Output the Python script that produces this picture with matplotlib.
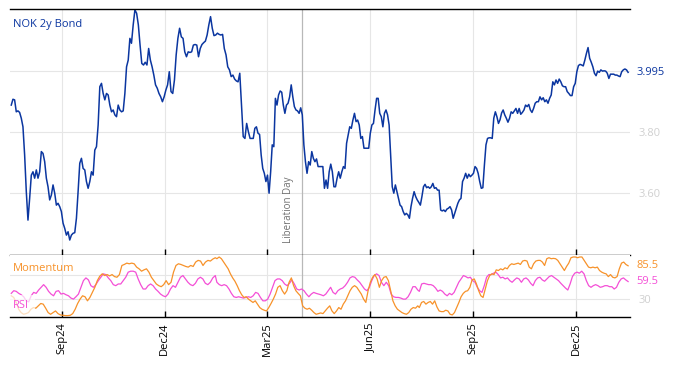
import numpy as np
import pandas as pd
import matplotlib
matplotlib.use("Agg")
import matplotlib.pyplot as plt

plt.rcParams['font.family'] = ['Open Sans', 'DejaVu Sans']

# ---------------- data ----------------
start_date, end_date = "2024-07-18", "2026-01-15"
event_date, event_label = "2025-04-02", "Liberation Day"
title = "NOK 2y Bond"
tick_months = ["2024-09", "2024-12", "2025-03", "2025-06", "2025-09", "2025-12"]
tick_labels = ["Sep24", "Dec24", "Mar25", "Jun25", "Sep25", "Dec25"]

# main series, in segments (segment start date, end date, values)
bond_seg1 = ("2024-07-18", "2024-10-31", [
    3.888, 3.907, 3.905, 3.866, 3.869, 3.864, 3.845, 3.817, 3.725, 3.605, 3.512, 3.583,
    3.659, 3.670, 3.649, 3.676, 3.649, 3.670, 3.736, 3.730, 3.703, 3.649, 3.621, 3.578,
    3.594, 3.627, 3.600, 3.561, 3.567, 3.556, 3.540, 3.502, 3.485, 3.463, 3.474, 3.447,
    3.463, 3.469, 3.471, 3.518, 3.605, 3.698, 3.714, 3.681, 3.676, 3.638, 3.616, 3.638,
    3.670, 3.659, 3.741, 3.752, 3.823, 3.948, 3.959, 3.926, 3.905, 3.926, 3.921, 3.888,
    3.866, 3.872, 3.856, 3.850, 3.888, 3.872, 3.866, 3.869, 3.926, 4.013, 4.035, 4.106])
bond_seg2 = ("2024-11-01", "2025-02-14", [
    4.090, 4.150, 4.199, 4.188, 4.150, 4.084, 4.024, 4.019, 4.028, 4.019, 4.073, 4.035,
    4.013, 3.986, 3.954, 3.943, 3.926, 3.915, 3.899, 3.915, 3.937, 3.954, 3.997, 3.932,
    3.926, 3.970, 4.052, 4.106, 4.139, 4.111, 4.106, 4.062, 4.046, 4.062, 4.060, 4.062,
    4.084, 4.086, 4.084, 4.046, 4.073, 4.086, 4.092, 4.097, 4.117, 4.150, 4.177, 4.139,
    4.115, 4.117, 4.123, 4.119, 4.117, 4.119, 4.073, 4.052, 4.013, 4.003, 3.981, 3.986,
    3.973, 3.967, 3.964, 3.992, 3.888, 3.785, 3.779, 3.828, 3.801, 3.779])
bond_seg3 = ("2025-02-17", "2025-06-05", [
    3.779, 3.779, 3.812, 3.817, 3.796, 3.792, 3.725, 3.681, 3.665, 3.638, 3.659, 3.600,
    3.670, 3.758, 3.752, 3.910, 3.888, 3.921, 3.934, 3.930, 3.888, 3.861, 3.888, 3.894,
    3.915, 3.954, 3.915, 3.883, 3.872, 3.869, 3.861, 3.879, 3.856, 3.758, 3.703, 3.665,
    3.703, 3.692, 3.736, 3.714, 3.703, 3.712, 3.687, 3.687, 3.687, 3.687, 3.616, 3.643,
    3.616, 3.670, 3.695, 3.670, 3.621, 3.621, 3.649, 3.670, 3.649, 3.670, 3.687, 3.681,
    3.763, 3.790, 3.817, 3.812, 3.839, 3.861, 3.834, 3.839, 3.823, 3.779, 3.785, 3.747,
    3.747, 3.747, 3.747, 3.796, 3.823, 3.828, 3.872])
bond_seg4 = ("2025-06-06", "2025-09-26", [
    3.910, 3.910, 3.861, 3.850, 3.817, 3.861, 3.872, 3.856, 3.823, 3.725, 3.621, 3.600,
    3.627, 3.605, 3.583, 3.561, 3.556, 3.540, 3.529, 3.534, 3.529, 3.518, 3.556, 3.583,
    3.605, 3.589, 3.578, 3.570, 3.561, 3.589, 3.621, 3.629, 3.618, 3.621, 3.616, 3.621,
    3.632, 3.616, 3.618, 3.610, 3.610, 3.545, 3.542, 3.545, 3.540, 3.548, 3.551, 3.556,
    3.545, 3.518, 3.534, 3.551, 3.567, 3.578, 3.583, 3.638, 3.649, 3.665, 3.649, 3.662,
    3.654, 3.659, 3.665, 3.687, 3.681, 3.665, 3.638, 3.616, 3.618, 3.692, 3.758, 3.779,
    3.781, 3.781, 3.779, 3.845, 3.866, 3.850, 3.828, 3.840, 3.862, 3.872])
bond_seg5 = ("2025-09-29", "2026-01-15", [
    3.856, 3.845, 3.832, 3.845, 3.866, 3.861, 3.869, 3.877, 3.861, 3.877, 3.858, 3.864,
    3.872, 3.888, 3.883, 3.890, 3.872, 3.864, 3.877, 3.894, 3.899, 3.899, 3.915, 3.905,
    3.912, 3.899, 3.905, 3.894, 3.910, 3.921, 3.964, 3.954, 3.970, 3.959, 3.973, 3.964,
    3.951, 3.948, 3.948, 3.932, 3.926, 3.919, 3.919, 3.948, 3.959, 3.997, 4.017, 4.021,
    4.019, 4.016, 4.035, 4.057, 4.076, 4.041, 4.028, 4.013, 3.992, 3.984, 3.999, 3.995,
    4.003, 3.999, 4.000, 3.999, 3.992, 3.975, 3.989, 3.989, 3.989, 3.986, 3.986, 3.983,
    3.981, 3.997, 4.003, 4.006, 4.003, 3.995])

mom_seg1 = ("2024-07-18", "2025-01-15", [
    36, 33.3, 25, 13.8, 8.3, 5.5, 6.6, 8.3, 13.8, 16.6, 15.5, 19.4, 23.3, 22.2, 15.5, 8.3,
    5.5, 8.3, 11, 6.6, 4.4, 3.8, 3.3, 3.3, 3.8, 6.6, 13.8, 23.3, 30.5, 36, 34.4, 27.7,
    33.3, 41.6, 50, 61, 68.3, 72.2, 69.4, 71, 68.8, 71, 67.7, 66.6, 71, 86, 87.7, 89.9,
    88.8, 89.9, 88.8, 83.3, 80.5, 76.6, 78.8, 80.5, 75, 66.6, 61, 55.5, 52.7, 51, 54.4,
    61, 54.4, 58.3, 75, 86, 88.8, 87.7, 86, 84.4, 83.3, 86, 84.4, 91.6, 94.4, 93.3, 86,
    91.6, 94.4, 93.3, 96.6, 98.8])
mom_seg2 = ("2025-01-16", "2025-07-14", [
    97.2, 100, 97.2, 91.6, 86, 80.5, 72.2, 65.5, 60, 52.7, 44.4, 37.7, 33.3, 34.4, 30.5,
    27.7, 25, 27.7, 22.2, 16.6, 13.8, 12.2, 11, 16.6, 23.3, 30.5, 38.8, 50, 52.7, 44.4,
    38.8, 44.4, 58.3, 65.5, 52.7, 44.4, 40, 36, 19.4, 15.5, 13.8, 15.5, 12.2, 8.3, 5.5,
    6.6, 7.7, 6.6, 11, 15.5, 19.4, 11, 6.6, 11, 16.6, 13.8, 22.2, 27.7, 36, 44.4, 50,
    52.7, 50, 44.4, 38.8, 30.5, 25, 44.4, 58.3, 66.6, 71, 63.8, 50, 61, 66.6, 67.7, 61,
    44.4, 27.7, 19.4, 13.8, 11, 8.3, 6.6, 5.5, 8.3, 13.8, 16.6, 15.5, 19.4])
mom_seg3 = ("2025-07-15", "2026-01-15", [
    16.6, 25, 26.6, 22.2, 25, 26.6, 22.2, 27.7, 17.7, 11, 9.9, 9.9, 12.2, 11, 5.5, 4.4,
    8.3, 16.6, 25, 34.4, 40, 43.3, 44.4, 50, 62.2, 63.8, 55.5, 44.4, 36, 33.3, 47.2, 61,
    69.4, 72.2, 71, 78.8, 77.7, 80.5, 78.8, 82.2, 80.5, 86, 88.8, 87.7, 88.8, 89.9, 87.7,
    93.3, 94.4, 93.3, 83.3, 80.5, 88.8, 93.3, 94.4, 94.4, 91.6, 86, 97.2, 98.8, 97.2,
    97.7, 97.2, 94.4, 88.8, 83.3, 77.7, 84.4, 89.9, 98.8, 100, 100, 98.8, 100, 100, 94.4,
    88.8, 83.3, 82.2, 83.3, 82.2, 83.3, 77.7, 75, 73.3, 72.2, 67.7, 71, 66.6, 65.5, 67.7,
    80.5, 89.9, 91.6, 87.7, 85.5])

rsi_seg1 = ("2024-07-18", "2025-01-15", [
    40, 44.4, 43.3, 40, 37.7, 34.4, 27.7, 26, 36, 41.6, 40, 45.5, 50, 54.4, 50, 43.3,
    38.8, 36, 43.3, 44.4, 38.8, 40, 37.7, 36, 32.2, 30.5, 34.4, 38.8, 50, 61, 65.5, 62.2,
    52.7, 50, 54.4, 61, 66.6, 72.2, 71, 65.5, 61, 54.4, 52.7, 55.5, 55.5, 61, 66.6, 75,
    76.6, 76.6, 75, 63.8, 54.4, 47.2, 47.2, 52.7, 55.5, 52.7, 47.2, 43.3, 38.8, 36, 34.4,
    38.8, 47.2, 52.7, 50, 58.3, 66.6, 69.4, 63.8, 58.3, 54.4, 52.7, 56.6, 63.8, 66.6,
    63.8, 56.6, 54.4, 58.3, 65.5, 69.4])
rsi_seg2 = ("2025-01-16", "2025-07-14", [
    58.3, 54.4, 52.7, 54.4, 52.7, 47.2, 40, 34.4, 33.3, 34.4, 33.3, 32.2, 33.3, 34.4,
    33.3, 36, 41.6, 40, 33.3, 27.7, 27.7, 30.5, 38.8, 50, 61, 63.8, 63.8, 61, 55.5, 52.7,
    56.6, 62.2, 55.5, 47.2, 45.5, 47.2, 44.4, 38.8, 34.4, 38.8, 41.6, 40, 38.8, 37.7, 36,
    38.8, 44.4, 50, 41.6, 38.8, 44.4, 47.2, 48.8, 52.7, 58.3, 65.5, 67.7, 66.6, 62.2,
    58.3, 52.7, 47.2, 44.4, 50, 61, 69.4, 72.2, 69.4, 58.3, 52.7, 58.3, 52.7, 38.8, 34.4,
    33.3, 33.3, 32.2, 30.5, 30.5, 34.4, 41.6, 51, 51, 45.5])
rsi_seg3 = ("2025-07-15", "2026-01-15", [
    43.3, 55.5, 56.6, 55.5, 54.4, 54.4, 52.7, 48.8, 43.3, 45.5, 43.3, 38.8, 36, 40, 37.7,
    41.6, 50, 58.3, 63.8, 69.4, 67.7, 65.5, 66.6, 61, 58.3, 50, 44.4, 41.6, 52.7, 66.6,
    71, 71, 73.3, 75, 71, 65.5, 66.6, 63.8, 65.5, 61, 58.3, 62.2, 65.5, 63.8, 58.3, 63.8,
    65.5, 62.2, 56.6, 52.7, 61, 65.5, 66.6, 62.2, 60, 63.8, 67.7, 69.4, 66.6, 63.8, 61,
    56.6, 52.7, 48.8, 45.5, 55.5, 67.7, 73.3, 75, 73.3, 76.6, 72.2, 61, 52.7, 50, 52.7,
    54.4, 52.7, 50, 51, 52.7, 52.7, 51, 51, 47.2, 50, 58.3, 63.8, 65.5, 62.2, 59.5])

# ---------------- styling ----------------
BLUE = "#0b36a0"
ORANGE = "#f7922a"
PINK = "#f44fd6"
GRID = "#e6e6e6"
LIGHT = "#d0d0d0"
FS = 8

bdays = pd.bdate_range(start_date, end_date)


def idx(d):
    return bdays.get_loc(pd.Timestamp(d))


def build(segs):
    xs, ys = [], []
    for a, b, vals in segs:
        xs.append(np.linspace(idx(a), idx(b), len(vals)))
        ys.append(np.asarray(vals, float))
    return np.concatenate(xs), np.concatenate(ys)


bx, by = build([bond_seg1, bond_seg2, bond_seg3, bond_seg4, bond_seg5])
mx, my = build([mom_seg1, mom_seg2, mom_seg3])
rx, ry = build([rsi_seg1, rsi_seg2, rsi_seg3])

tick_pos = [int(np.argmax(bdays.strftime("%Y-%m") == m)) for m in tick_months]
ev = idx(event_date)
n = len(bdays)

fig = plt.figure(figsize=(6.74, 3.66), dpi=100)
W, H = 674, 366
L, R = 10 / W, 630 / W
ax = fig.add_axes([L, 1 - 255 / H, R - L, (255 - 9) / H])
ax2 = fig.add_axes([L, 1 - 317 / H, R - L, (317 - 255) / H], sharex=ax)

for a in (ax, ax2):
    a.spines['left'].set_visible(False)
    a.spines['right'].set_visible(False)
    for s in ('top', 'bottom'):
        a.spines[s].set_linewidth(1.0)
        a.spines[s].set_color('black')
    a.grid(True, color=GRID, linewidth=0.8)
    a.set_axisbelow(True)
    a.set_xticks(tick_pos)
    a.tick_params(axis='x', direction='in', length=4, width=1, color='black')
    a.tick_params(axis='y', length=0, labelsize=FS, labelcolor=LIGHT, pad=6,
                  left=False, right=True, labelleft=False, labelright=True)
    a.axvline(ev, color='#b8b8b8', linewidth=0.9, zorder=1.5)

ax2.spines['top'].set_visible(False)

# main panel
ax.plot(bx, by, color=BLUE, linewidth=1.1, zorder=2)
ax.set_ylim(3.398, 4.202)
ax.set_xlim(-0.8, n + 0.2)
ax.set_yticks([3.6, 3.8, 4.0])
ax.set_yticklabels(["3.60", "3.80", ""])
ax.tick_params(axis='x', labelbottom=False)
ax.text(1.01, by[-1], f"{by[-1]:.3f}", transform=ax.get_yaxis_transform(),
        color=BLUE, fontsize=FS, va='center', ha='left')
ax.text(0.005, 0.935, title, transform=ax.transAxes, color=BLUE, fontsize=FS,
        va='center', ha='left')
ax.annotate(event_label, xy=(ev, 3.438), xytext=(-6, 0), textcoords='offset points',
            rotation=90, ha='right', va='bottom', fontsize=7, color='#707070')

# lower panel
ax2.plot(rx, ry, color=PINK, linewidth=0.9, zorder=2)
ax2.plot(mx, my, color=ORANGE, linewidth=0.9, zorder=2.1)
ax2.set_ylim(1, 103.3)
ax2.set_yticks([30, 70])
ax2.set_yticklabels(["30", ""])
ax2.text(1.01, my[-1], f"{my[-1]:.1f}", transform=ax2.get_yaxis_transform(),
         color=ORANGE, fontsize=FS, va='center', ha='left')
ax2.text(1.01, ry[-1], f"{ry[-1]:.1f}", transform=ax2.get_yaxis_transform(),
         color=PINK, fontsize=FS, va='center', ha='left')
ax2.text(0.005, 0.79, "Momentum", transform=ax2.transAxes, color=ORANGE,
         fontsize=FS, va='center', ha='left')
ax2.text(0.005, 0.18, "RSI", transform=ax2.transAxes, color=PINK, fontsize=FS,
         va='center', ha='left', zorder=2.3,
         bbox=dict(facecolor='white', alpha=0.7, edgecolor='none', pad=4))
ax2.set_xticklabels(tick_labels, rotation=90, fontsize=FS)
ax2.tick_params(axis='x', pad=4)

fig.savefig("out.png", dpi=100)
